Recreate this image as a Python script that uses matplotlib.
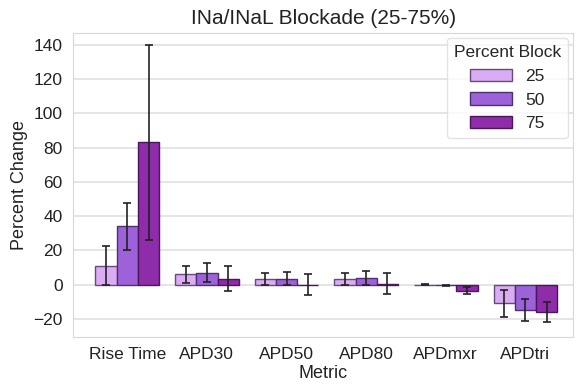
import matplotlib
matplotlib.use("Agg")
import matplotlib.pyplot as plt
import numpy as np
import seaborn as sns

sns.set_style("whitegrid")
plt.rcParams['font.family'] = ['Liberation Sans', 'DejaVu Sans']

metrics = ["Rise Time", "APD30", "APD50", "APD80", "APDmxr", "APDtri"]
blocks = ["25", "50", "75"]

# mean percent change per block level
mean_25 = [11, 6, 3.5, 3.5, 0.0, -11]
mean_50 = [34, 7, 3.5, 4, -0.5, -15]
mean_75 = [83, 3.5, 0.0, 0.5, -3.5, -16]

# error bar half-widths
err_25 = [11.5, 5, 3.5, 3.5, 0.3, 8]
err_50 = [13.7, 5.5, 4, 4, 0.5, 6.5]
err_75 = [57, 7.5, 6, 6, 2, 6]

colors = ["#d9acf3", "#9d62da", "#8f2ca9"]
edges = ["#6a4a7a", "#4e2f70", "#4a1758"]

fig = plt.figure(figsize=(5.76, 3.85), dpi=100)
ax = fig.add_axes([0.127, 0.125, 0.868, 0.79])

x = np.arange(len(metrics))
w = 0.8 / 3
means = [mean_25, mean_50, mean_75]
errs = [err_25, err_50, err_75]
for i in range(3):
    ax.bar(x + (i - 1) * w, means[i], w, color=colors[i], edgecolor=edges[i],
           linewidth=1.0, label=blocks[i], zorder=2,
           yerr=errs[i], capsize=3,
           error_kw=dict(ecolor="#222222", elinewidth=1.2, capthick=1.2, zorder=3))

ax.set_xlim(-0.68, 5.6)
ax.set_ylim(-30.5, 147)
ax.set_yticks([-20, 0, 20, 40, 60, 80, 100, 120, 140])
ax.set_xticks(x)
ax.set_xticklabels(metrics)
ax.tick_params(labelsize=12.5, colors="#222222", pad=4)
ax.set_xlabel("Metric", fontsize=13, labelpad=2, color="#222222")
ax.set_ylabel("Percent Change", fontsize=13, color="#222222", labelpad=4)
ax.set_title("INa/INaL Blockade (25-75%)", fontsize=15, pad=6, color="#222222")
ax.grid(axis="x", visible=False)
ax.grid(axis="y", color="#e0e0e0", linewidth=1.2)
for s in ax.spines.values():
    s.set_color("#d8d8d8")

leg = ax.legend(title="Percent Block", fontsize=12.5, title_fontsize=12.5,
                loc="upper right", frameon=True, handlelength=2.4,
                borderaxespad=0.3)
leg.get_frame().set_edgecolor("#dddddd")

fig.savefig("out.png", dpi=100)
